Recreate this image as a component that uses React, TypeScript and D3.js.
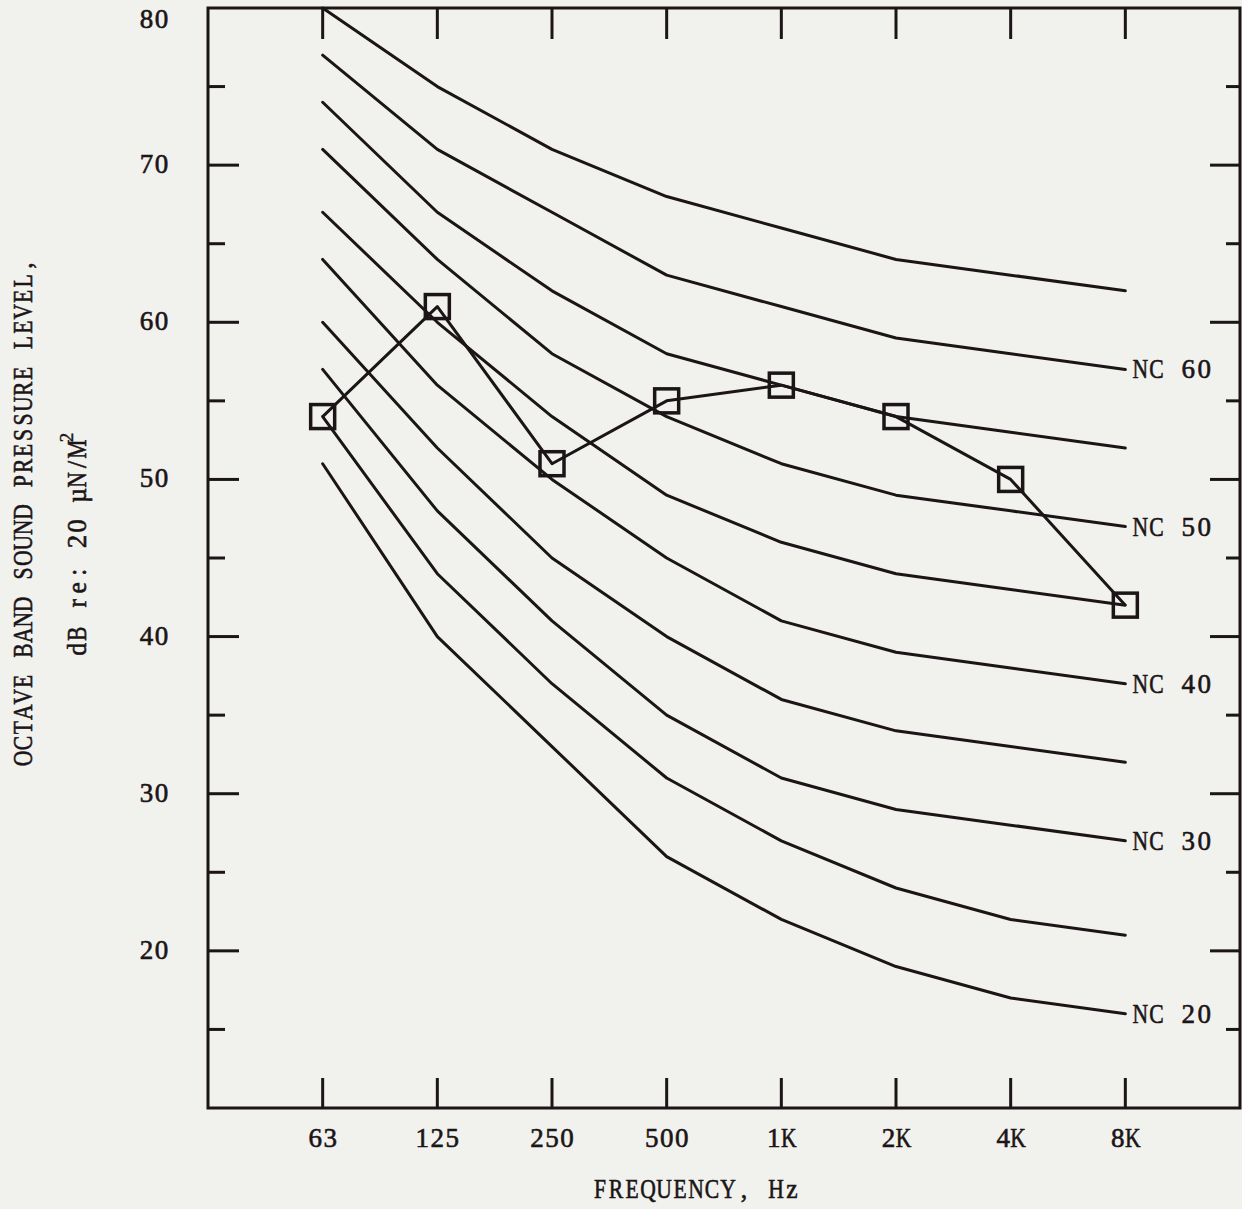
import React from "react";
import * as d3 from "d3";

const FREQS = ["63", "125", "250", "500", "1K", "2K", "4K", "8K"];
const NC20 = [51, 40, 33, 26, 22, 19, 17, 16];
const NC25 = [54, 44, 37, 31, 27, 24, 22, 21];
const NC30 = [57, 48, 41, 35, 31, 29, 28, 27];
const NC35 = [60, 52, 45, 40, 36, 34, 33, 32];
const NC40 = [64, 56, 50, 45, 41, 39, 38, 37];
const NC45 = [67, 60, 54, 49, 46, 44, 43, 42];
const NC50 = [71, 64, 58, 54, 51, 49, 48, 47];
const NC55 = [74, 67, 62, 58, 56, 54, 53, 52];
const NC60 = [77, 71, 67, 63, 61, 59, 58, 57];
const NC65 = [80, 75, 71, 68, 66, 64, 63, 62];
const NC_CURVES = [
  { nc: 20, values: NC20 },
  { nc: 25, values: NC25 },
  { nc: 30, values: NC30 },
  { nc: 35, values: NC35 },
  { nc: 40, values: NC40 },
  { nc: 45, values: NC45 },
  { nc: 50, values: NC50 },
  { nc: 55, values: NC55 },
  { nc: 60, values: NC60 },
  { nc: 65, values: NC65 },
];
const LABELED_NC = [20, 30, 40, 50, 60];
const MEASURED = [54, 61, 51, 55, 56, 54, 50, 42];
const Y_LABELS = [80, 70, 60, 50, 40, 30, 20];
const Y_MAJOR_TICKS = [20, 30, 40, 50, 60, 70];
const Y_MINOR_TICKS = [15, 25, 35, 45, 55, 65, 75];

const INK = "#1b1517";
const FONT = "'Liberation Serif', 'DejaVu Serif', serif";
const FS = 27;
const CW = 15.7;

function glyphScale(ch: string) {
  if (/[A-Z]/.test(ch)) return 0.8;
  if (/[0-9]/.test(ch)) return 1.0;
  return 0.95;
}

function MonoText({ x, y, text, anchor = "start", rotate = 0, cw = CW, fs = FS }: any) {
  const chars = Array.from(text as string);
  const total = chars.length * cw;
  const start = anchor === "middle" ? -total / 2 : anchor === "end" ? -total : 0;
  return (
    <g transform={`translate(${x},${y}) rotate(${rotate})`}>
      {chars.map((ch, i) =>
        ch === " " ? null : (
          <g
            key={i}
            transform={`translate(${(start + (i + 0.5) * cw).toFixed(2)},0) scale(${glyphScale(ch)},1)`}
          >
            <text
              x={0}
              y={0}
              textAnchor="middle"
              fontFamily={FONT}
              fontSize={fs}
              fill={INK}
              stroke={INK}
              strokeWidth={0.6}
            >
              {ch}
            </text>
          </g>
        )
      )}
    </g>
  );
}

export default function App() {
  const W = 1242;
  const H = 1209;
  const x = d3.scaleLinear().domain([-1, 8]).range([208, 1240]);
  const y = d3.scaleLinear().domain([10, 80]).range([1108, 8]);
  const line = d3
    .line<number>()
    .x((_, i) => x(i))
    .y((d) => y(d));

  const left = x(-1);
  const right = x(8);
  const top = y(80);
  const bottom = y(10);

  const line2 = "dB re: 20 µN/M";

  return (
    <svg
      width={W}
      height={H}
      style={{ position: "absolute", left: 0, top: 0 }}
    >
      <rect x={0} y={0} width={W} height={H} fill="#f1f1ed" />
      {/* frame */}
      <rect
        x={left}
        y={top}
        width={right - left}
        height={bottom - top}
        fill="none"
        stroke={INK}
        strokeWidth={3}
      />
      {/* y ticks */}
      {Y_MAJOR_TICKS.map((v) => (
        <g key={"ym" + v}>
          <line x1={left} x2={left + 31} y1={y(v)} y2={y(v)} stroke={INK} strokeWidth={3} />
          <line x1={right - 30} x2={right} y1={y(v)} y2={y(v)} stroke={INK} strokeWidth={3} />
        </g>
      ))}
      {Y_MINOR_TICKS.map((v) => (
        <g key={"yn" + v}>
          <line x1={left} x2={left + 17} y1={y(v)} y2={y(v)} stroke={INK} strokeWidth={3} />
          <line x1={right - 14} x2={right} y1={y(v)} y2={y(v)} stroke={INK} strokeWidth={3} />
        </g>
      ))}
      {/* x ticks */}
      {FREQS.map((f, i) => (
        <g key={"xt" + f}>
          <line x1={x(i)} x2={x(i)} y1={top} y2={top + 31} stroke={INK} strokeWidth={3} />
          <line x1={x(i)} x2={x(i)} y1={bottom} y2={bottom - 30} stroke={INK} strokeWidth={3} />
          <MonoText x={x(i)} y={1147} anchor="middle" text={f} cw={15} />
        </g>
      ))}
      {/* y labels */}
      {Y_LABELS.map((v) => (
        <MonoText
          key={"yl" + v}
          x={169}
          y={v === 80 ? 28 : y(v) + 8}
          anchor="end"
          text={String(v)}
          cw={15}
        />
      ))}
      {/* NC curves */}
      {NC_CURVES.map((c) => (
        <path
          key={"nc" + c.nc}
          d={line(c.values) || ""}
          fill="none"
          stroke={INK}
          strokeWidth={3}
          strokeLinecap="round"
          strokeLinejoin="round"
        />
      ))}
      {NC_CURVES.filter((c) => LABELED_NC.includes(c.nc)).map((c) => (
        <MonoText
          key={"ncl" + c.nc}
          x={x(7) + 7}
          y={y(c.values[7]) + 9}
          text={`NC ${c.nc}`}
          cw={16}
        />
      ))}
      {/* measured */}
      <path
        d={line(MEASURED) || ""}
        fill="none"
        stroke={INK}
        strokeWidth={3}
        strokeLinejoin="round"
      />
      {MEASURED.map((v, i) => (
        <rect
          key={"m" + i}
          x={x(i) - 12}
          y={y(v) - 12}
          width={24}
          height={24}
          fill="none"
          stroke={INK}
          strokeWidth={3.5}
        />
      ))}
      {/* axis titles */}
      <MonoText x={696} y={1198} anchor="middle" text="FREQUENCY, Hz" cw={16} />
      <MonoText
        x={32}
        y={512}
        anchor="middle"
        rotate={-90}
        text="OCTAVE BAND SOUND PRESSURE LEVEL,"
        cw={15.4}
      />
      <MonoText x={86} y={657} rotate={-90} text={line2} cw={15.4} />
      <g transform={`translate(86,657) rotate(-90)`}>
        <text
          x={line2.length * 15.4 + 4}
          y={-13}
          textAnchor="middle"
          fontFamily={FONT}
          fontSize={19}
          fill={INK}
          stroke={INK}
          strokeWidth={0.4}
        >
          2
        </text>
      </g>
    </svg>
  );
}
